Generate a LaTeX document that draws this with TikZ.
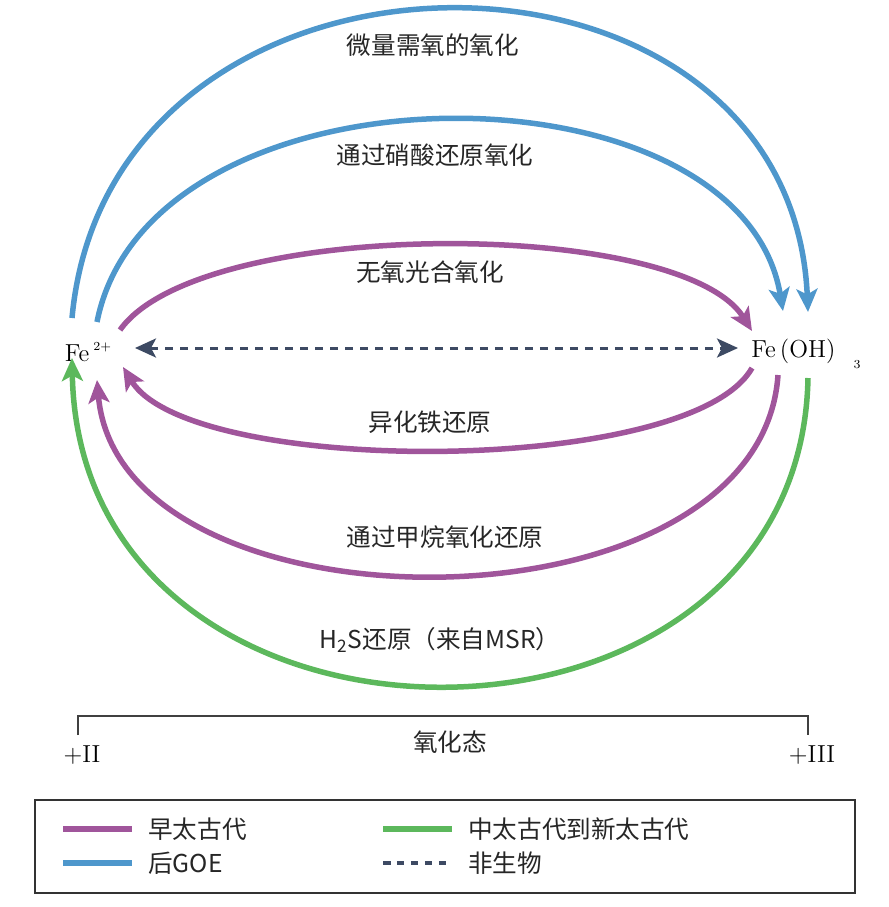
\documentclass[tikz,border=0pt]{standalone}
\usepackage{fontspec}
\newfontfamily\cjk{Noto Sans CJK SC}
\usepackage{xcolor}
\usetikzlibrary{arrows.meta}

\definecolor{earlyarch}{HTML}{A0559B}
\definecolor{postgoe}{HTML}{4E97CC}
\definecolor{midarch}{HTML}{5CB85C}
\definecolor{abiotic}{HTML}{3D4A63}

\tikzset{
    path/.style={line width=1.1mm, -{Stealth[length=4.6mm,width=4.2mm,inset=1.1mm]}},
    lbl/.style={font=\cjk\fontsize{14}{16}\selectfont, text=black!85},
}

\begin{document}
\begin{tikzpicture}[x=0.02cm,y=-0.02cm,font=\fontsize{14}{16}\selectfont]
    \useasboundingbox (0,0) rectangle (889,907);

    % The two iron species
    \node (fe2) at (88,352) {Fe\,\raisebox{1.1ex}{\scriptsize 2+}};
    \node (feoh) at (806,354) {Fe\,(OH)\hspace{3.6mm}\raisebox{-1.1ex}{\scriptsize 3}};

    % Ends of the arcs round Fe2+
    \coordinate (l1) at (72,318);
    \coordinate (l2) at (97,322);
    \coordinate (l3) at (120,330);
    \coordinate (l4) at (135,348);
    \coordinate (l5) at (123,367);
    \coordinate (l6) at (97,380);
    \coordinate (l7) at (72,358);
    % Ends of the arcs round Fe(OH)3
    \coordinate (r1) at (808,312);
    \coordinate (r2) at (783,311);
    \coordinate (r3) at (752,331);
    \coordinate (r4) at (738,348);
    \coordinate (r5) at (752,368);
    \coordinate (r6) at (778,375);
    \coordinate (r7) at (808,378);

    % Oxidation paths (top)
    \draw[path, postgoe] (l1) .. controls (110,-92) and (790,-92) .. (r1);
    \node[lbl] (microox) at (433,45) {微量需氧的氧化};
    \draw[path, postgoe] (l2) .. controls (150,55) and (740,55) .. (r2);
    \node[lbl] (nitrox) at (435,155) {通过硝酸还原氧化};
    \draw[path, earlyarch] (l3) .. controls (200,217) and (680,217) .. (r3);
    \node[lbl] (photox) at (430,272) {无氧光合氧化};

    % Abiotic
    \draw[abiotic, line width=0.6mm, dash pattern=on 1.6mm off 1.4mm,
        {Stealth[length=4.2mm,width=3.8mm,inset=1mm]}-{Stealth[length=4.2mm,width=3.8mm,inset=1mm]}] (l4) -- (r4);

    % Reduction paths (bottom)
    \draw[path, earlyarch] (r5) .. controls (690,477) and (190,477) .. (l5);
    \node[lbl] (dissred) at (430,422) {异化铁还原};
    \draw[path, earlyarch] (r6) .. controls (760,641) and (120,641) .. (l6);
    \node[lbl] (methred) at (445,537) {通过甲烷氧化还原};
    \draw[path, midarch] (r7) .. controls (800,791) and (80,791) .. (l7);
    \node[lbl] (sulfred) at (440,640) {H\textsubscript{2}S还原（来自MSR）};

    % Oxidation state scale
    \draw[black!75, line width=0.3mm] (78,735) |- (808,716) -- (808,735);
    \node (ii) at (82,755) {+II};
    \node (iii) at (812,755) {+III};
    \node[lbl] (state) at (450,742) {氧化态};

    % Legend
    \draw[black!80, line width=0.3mm] (35,800) rectangle (855,893);
    \draw[earlyarch, line width=1.2mm] (63,829) -- (132,829);
    \node[lbl, anchor=west] (k1) at (142,829) {早太古代};
    \draw[postgoe, line width=1.2mm] (63,863) -- (132,863);
    \node[lbl, anchor=west] (k2) at (142,863) {后GOE};
    \draw[midarch, line width=1.2mm] (383,829) -- (452,829);
    \node[lbl, anchor=west] (k3) at (462,829) {中太古代到新太古代};
    \draw[abiotic, line width=0.8mm, dash pattern=on 1.5mm off 1.3mm] (383,863) -- (452,863);
    \node[lbl, anchor=west] (k4) at (462,863) {非生物};
\end{tikzpicture}
\end{document}
